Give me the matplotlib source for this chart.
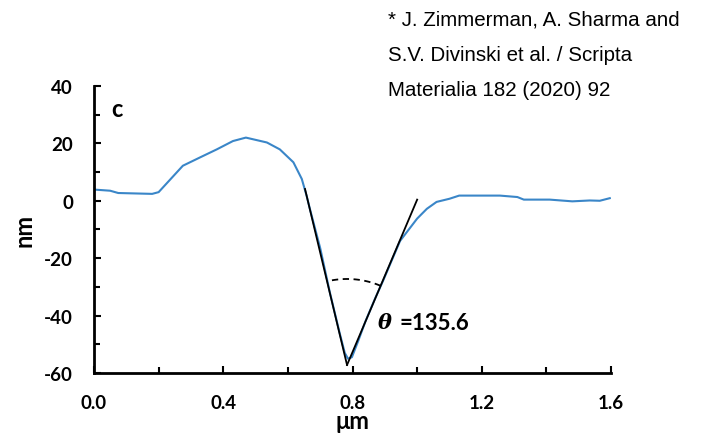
import numpy as np
import matplotlib
matplotlib.use("Agg")
from matplotlib import pyplot as plt
from matplotlib.ticker import MultipleLocator

plt.rcParams["axes.unicode_minus"] = False

# surface profile across the groove (um, nm)
profile_x = [0.0, 0.05, 0.075, 0.18, 0.2, 0.275, 0.33, 0.38, 0.43, 0.47,
             0.535, 0.575, 0.617, 0.643, 0.658, 0.668, 0.70, 0.73, 0.76, 0.776,
             0.786, 0.798, 0.817, 0.84, 0.87, 0.894, 0.947, 1.0, 1.03, 1.06,
             1.10, 1.13, 1.256, 1.31, 1.33, 1.41, 1.48, 1.534, 1.565, 1.596]
profile_y = [3.9, 3.5, 2.7, 2.4, 3.0, 12.2, 15.2, 17.9, 20.8, 22.0,
             20.3, 17.9, 13.4, 7.6, 1.7, -2.8, -16.5, -32, -46, -53,
             -55, -54.5, -49, -42, -34, -28, -14, -6.2, -2.8, -0.4,
             0.7, 1.8, 1.8, 1.3, 0.4, 0.4, -0.2, 0.1, 0.0, 0.9]

# tangent lines of the groove walls
left_x = [0.653, 0.783]
left_y = [4.1, -57.2]
right_x = [0.783, 1.0]
right_y = [-57.2, 0.4]

angle_label = "=135.6"
x_ticks = [0.0, 0.4, 0.8, 1.2, 1.6]
y_ticks = [-60, -40, -20, 0, 20, 40]
ref_lines = ["* J. Zimmerman, A. Sharma and",
             "S.V. Divinski et al. / Scripta",
             "Materialia 182 (2020) 92"]

FONT = "Lato"

fig = plt.figure(figsize=(7.04, 4.39), dpi=100)
ax = fig.add_axes([0.1335, 0.148, 0.7345, 0.654])

ax.plot(profile_x, profile_y, color="#3a86c8", lw=1.5, zorder=2)
ax.plot(left_x, left_y, color="black", lw=1.3, zorder=3)
ax.plot(right_x, right_y, color="black", lw=1.3, zorder=3)

ax.set_xlim(0, 1.6)
ax.set_ylim(-60, 40)

# dashed arc between the two tangents, drawn in pixel space
to_px = ax.transData
vx, vy = to_px.transform((left_x[1], left_y[1]))
p1 = to_px.transform((left_x[0], left_y[0]))
p2 = to_px.transform((right_x[1], right_y[1]))
a1 = np.arctan2(p1[1] - vy, p1[0] - vx)
a2 = np.arctan2(p2[1] - vy, p2[0] - vx)
r = 86
t = np.linspace(a2, a1, 50)
arc = np.column_stack([vx + r * np.cos(t), vy + r * np.sin(t)])
arc_data = to_px.inverted().transform(arc)
ax.plot(arc_data[:, 0], arc_data[:, 1], color="black", lw=1.3,
        ls=(0, (3.5, 2.5)), zorder=3)

ax.text(0.878, -42.4, "θ", fontsize=15, fontstyle="italic", fontweight="bold",
        family="DejaVu Serif", va="center", ha="left")
ax.text(0.945, -42.4, angle_label, fontsize=16, family=FONT, fontweight="bold",
        va="center", ha="left")
ax.text(0.071, 32.0, "c", fontsize=17, fontweight="bold", family=FONT,
        va="center", ha="center")

for side in ["top", "right"]:
    ax.spines[side].set_visible(False)
for side in ["left", "bottom"]:
    ax.spines[side].set_linewidth(2)

ax.set_xticks(x_ticks)
ax.set_xticklabels([f"{v:.1f}" for v in x_ticks])
ax.set_yticks(y_ticks)
ax.xaxis.set_minor_locator(MultipleLocator(0.2))
ax.yaxis.set_minor_locator(MultipleLocator(10))
ax.tick_params(which="both", direction="in", width=1.5)
ax.tick_params(which="major", length=5, pad=15)
ax.tick_params(which="minor", length=4)
for lab in ax.get_xticklabels() + ax.get_yticklabels():
    lab.set_family(FONT)
    lab.set_fontweight("bold")
    lab.set_fontsize(13.5)

ax.set_xlabel("μm", family=FONT, fontweight="bold", fontsize=17, labelpad=-1)
ax.set_ylabel("nm", family=FONT, fontweight="bold", fontsize=17, labelpad=6)

fig.text(388 / 704, 1 - 11 / 439, "\n".join(ref_lines), family="Liberation Sans",
         fontsize=14.8, va="top", ha="left", linespacing=2.08)

fig.savefig("out.png", dpi=100)
